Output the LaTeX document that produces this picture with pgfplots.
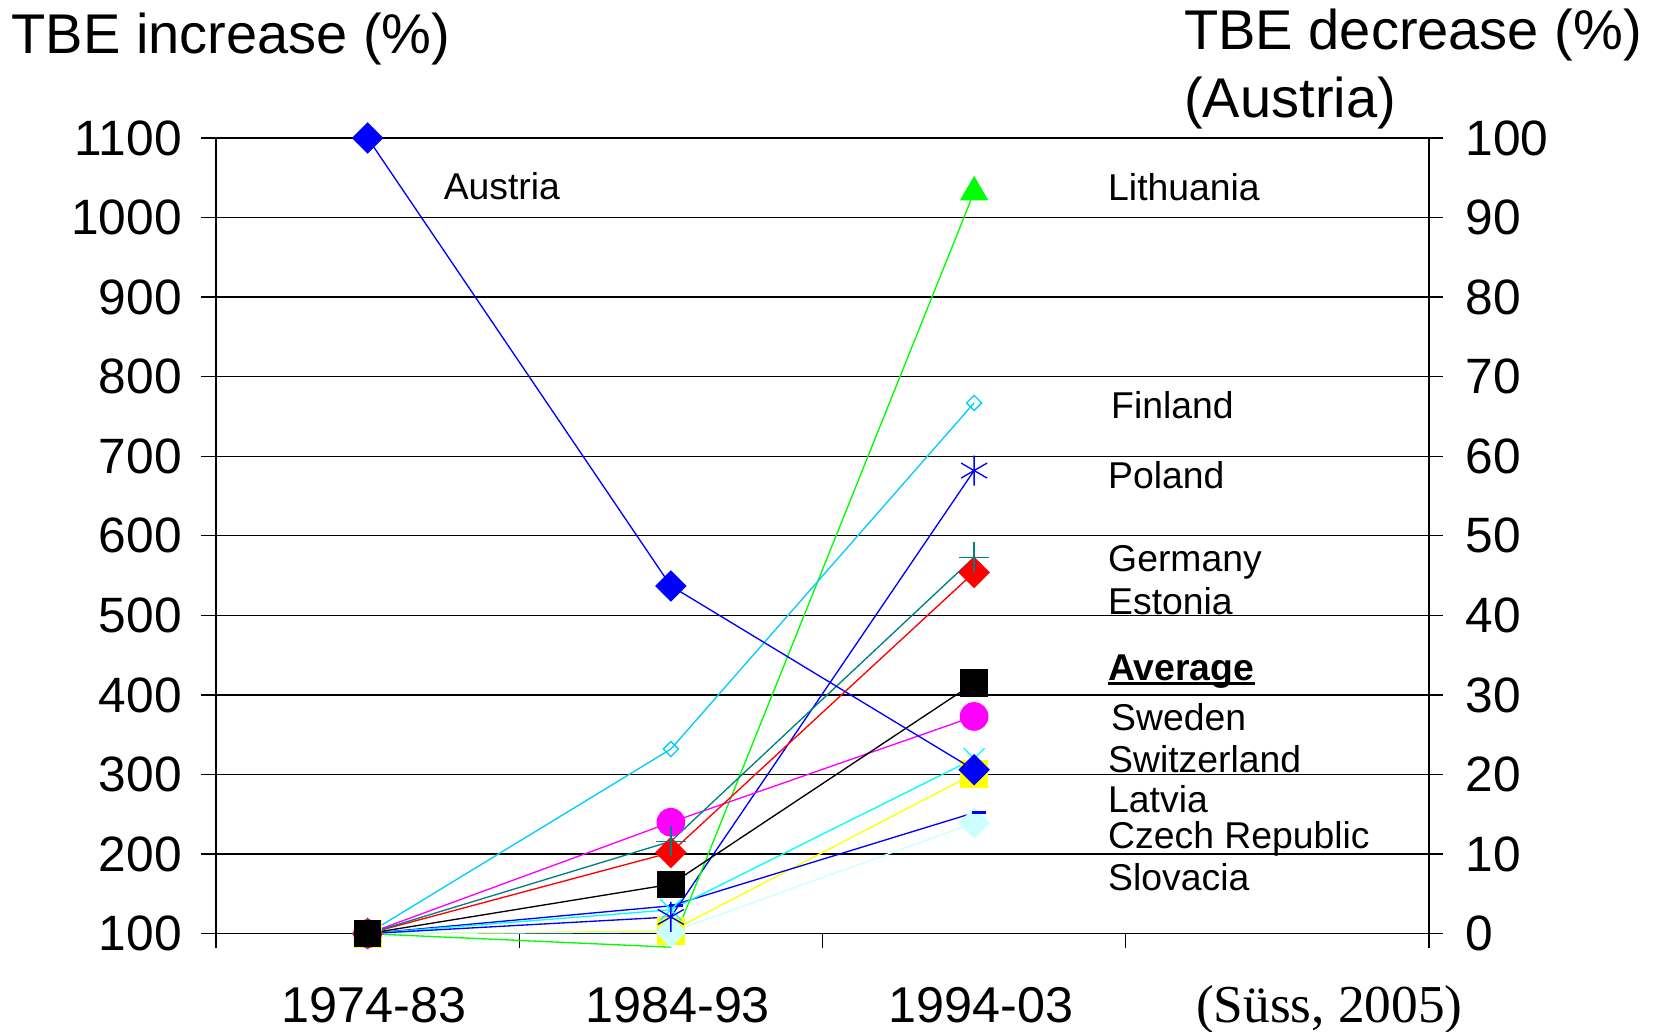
\documentclass[border=0pt]{standalone}
\usepackage{fontspec}
\setmainfont{Liberation Sans}
\newfontfamily\timesfont{Liberation Serif}
\usepackage{pgfplots}
\pgfplotsset{compat=1.18}
\definecolor{xblue}{RGB}{0,0,255}
\definecolor{xgreen}{RGB}{0,255,0}
\definecolor{xsky}{RGB}{0,204,255}
\definecolor{xteal}{RGB}{0,128,128}
\definecolor{xred}{RGB}{255,0,0}
\definecolor{xmag}{RGB}{255,0,255}
\definecolor{xcyan}{RGB}{0,255,255}
\definecolor{xyellow}{RGB}{255,255,0}
\definecolor{xlcyan}{RGB}{204,255,255}
\newcommand{\lbl}{\fontsize{11.2pt}{13pt}\selectfont}
\newcommand{\ttl}{\fontsize{16.8pt}{19pt}\selectfont}
\begin{document}
\begin{tikzpicture}
\pgfplotsset{
  common/.style={
    scale only axis, width=363.9pt, height=243pt,
    xmin=0, xmax=4, clip=false,
    /pgf/number format/assume math mode=true,
    /pgf/number format/1000 sep={},
    ticklabel style={font=\fontsize{14.9pt}{16pt}\selectfont},
    tick style={black, line width=0.4pt},
    axis line style={-},
  }
}
\begin{axis}[common, name=main,
  ymin=82, ymax=1100,
  axis y line*=left, axis x line*=bottom,
  x axis line style={draw=none},
  y axis line style={black, line width=0.4pt},
  xtick={0,1,2,3,4}, xticklabels={},
  xtick align=inside, ytick align=outside,
  major tick length=4.5pt,
  ytick={100,200,...,1100},
  ymajorgrids, grid style={black, line width=0.4pt},
  yticklabel style={anchor=east, inner sep=0pt, xshift=-5.6pt},
  every axis plot/.append style={line width=0.4pt},
]
% Latvia
\addplot[xyellow, mark=square*, mark size=4pt, mark options={fill=xyellow, draw=xyellow}]
  coordinates {(0.5,100) (1.5,103) (2.5,301)};
% Slovacia
\addplot[xlcyan, mark=square*, mark size=3.15pt, mark options={rotate=45, fill=xlcyan, draw=xlcyan}]
  coordinates {(0.5,100) (1.5,102) (2.5,239)};
% Czech Republic
\addplot[xblue, mark=-, mark size=2pt, mark options={line width=0.9pt, xshift=1.5pt}]
  coordinates {(0.5,100) (1.5,135) (2.5,252)};
% Switzerland
\addplot[xcyan, mark=x, mark size=4.5pt]
  coordinates {(0.5,100) (1.5,130) (2.5,320)};
% Poland
\addplot[xblue, mark=asterisk, mark size=4.5pt]
  coordinates {(0.5,100) (1.5,121) (2.5,682)};
% Lithuania (its 1984-93 point lies on the bottom edge; its marker is cut off there)
\addplot[xgreen, mark=triangle*, mark size=4.5pt, mark indices={1,3}, mark options={fill=xgreen, draw=xgreen}]
  coordinates {(0.5,100) (1.5,83) (2.5,1032)};
% Finland
\addplot[xsky, mark=square, mark size=1.6pt, mark options={rotate=45}]
  coordinates {(0.5,100) (1.5,332) (2.5,767)};
% Sweden
\addplot[xmag, mark=*, mark size=4.1pt, mark options={fill=xmag, draw=xmag}]
  coordinates {(0.5,100) (1.5,240) (2.5,373)};
% Estonia
\addplot[xred, mark=square*, mark size=3.15pt, mark options={rotate=45, fill=xred, draw=xred}]
  coordinates {(0.5,100) (1.5,202) (2.5,554)};
% Germany
\addplot[xteal, mark=+, mark size=4.5pt]
  coordinates {(0.5,100) (1.5,216) (2.5,573)};
% Average
\addplot[black, mark=square*, mark size=3.9pt, mark options={fill=black, draw=black}]
  coordinates {(0.5,100) (1.5,162) (2.5,415)};

% series labels
\node[anchor=base west, inner sep=0pt, font=\lbl] at (axis cs:0.749,1023) {Austria};
\node[anchor=base west, inner sep=0pt, font=\lbl] at (axis cs:2.94,1021) {Lithuania};
\node[anchor=base west, inner sep=0pt, font=\lbl] at (axis cs:2.95,748) {Finland};
\node[anchor=base west, inner sep=0pt, font=\lbl] at (axis cs:2.94,659) {Poland};
\node[anchor=base west, inner sep=0pt, font=\lbl] at (axis cs:2.94,555) {Germany};
\node[anchor=base west, inner sep=0pt, font=\lbl] at (axis cs:2.94,501) {Estonia};
\node[anchor=base west, inner sep=0pt, font=\lbl\bfseries] (avgnode) at (axis cs:2.94,418) {Average};
\draw[line width=1.1pt] ([yshift=-0.9pt]avgnode.base west) -- ([yshift=-0.9pt]avgnode.base east);
\node[anchor=base west, inner sep=0pt, font=\lbl] at (axis cs:2.95,355) {Sweden};
\node[anchor=base west, inner sep=0pt, font=\lbl] at (axis cs:2.94,302) {Switzerland};
\node[anchor=base west, inner sep=0pt, font=\lbl] at (axis cs:2.94,252) {Latvia};
\node[anchor=base west, inner sep=0pt, font=\lbl] at (axis cs:2.94,207) {Czech Republic};
\node[anchor=base west, inner sep=0pt, font=\lbl] at (axis cs:2.94,154) {Slovacia};
\end{axis}

\begin{axis}[common,
  ymin=-1.8, ymax=100,
  axis y line*=right, axis x line=none,
  y axis line style={black, line width=0.4pt},
  ytick={0,10,...,100},
  ytick align=center, major tick length=8.4pt,
  yticklabel style={anchor=west, inner sep=0pt, xshift=6.6pt},
]
% Austria (right axis)
\addplot[xblue, line width=0.4pt, mark=square*, mark size=3.15pt, mark options={rotate=45, fill=xblue, draw=xblue}]
  coordinates {(0.5,100) (1.5,43.7) (2.5,20.6)};
\end{axis}

% titles and category labels
\node[anchor=base west, inner sep=0pt, font=\ttl] at ([shift={(-61.5pt,268.2pt)}]main.south west) {TBE increase (\%)};
\node[anchor=base west, inner sep=0pt, font=\ttl] at ([shift={(290.3pt,269.4pt)}]main.south west) {TBE decrease (\%)};
\node[anchor=base west, inner sep=0pt, font=\ttl] at ([shift={(290.3pt,249.2pt)}]main.south west) {(Austria)};
\node[anchor=base, inner sep=0pt, font=\fontsize{15.1pt}{17pt}\selectfont] at ([shift={(47.5pt,-22.5pt)}]main.south west) {1974-83};
\node[anchor=base, inner sep=0pt, font=\fontsize{15.1pt}{17pt}\selectfont] at ([shift={(138.5pt,-22.5pt)}]main.south west) {1984-93};
\node[anchor=base, inner sep=0pt, font=\fontsize{15.1pt}{17pt}\selectfont] at ([shift={(229.5pt,-22.5pt)}]main.south west) {1994-03};
\node[anchor=base west, inner sep=0pt, font=\timesfont\fontsize{16pt}{18pt}\selectfont] at ([shift={(293.8pt,-22.5pt)}]main.south west) {(Süss, 2005)};

\pgfresetboundingbox
\useasboundingbox ([shift={(-64.8pt,-25.2pt)}]main.south west) rectangle ([shift={(431.4pt,284.4pt)}]main.south west);
\end{tikzpicture}
\end{document}
